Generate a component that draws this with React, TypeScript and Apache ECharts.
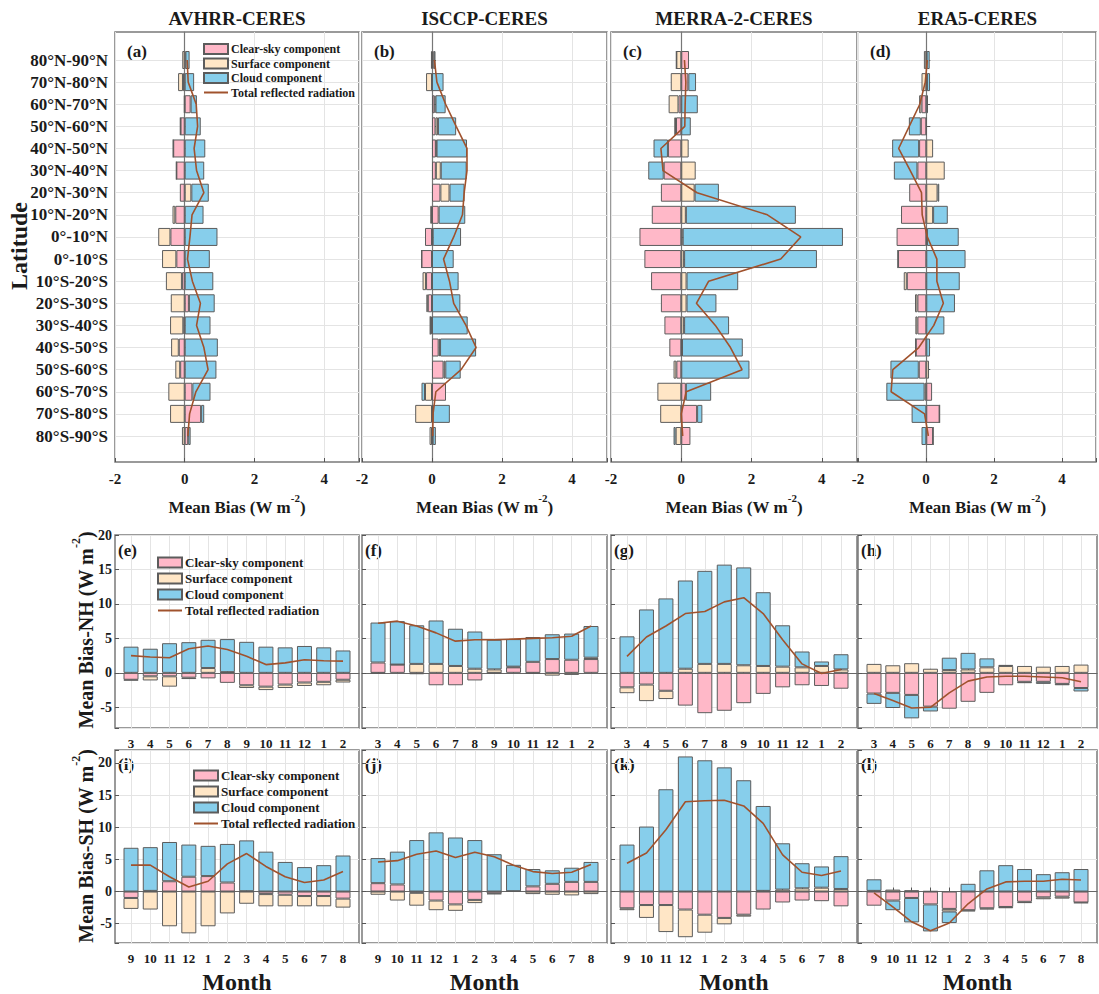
import { useEffect, useRef } from 'react';
import * as echarts from 'echarts';

const FONT = "'Liberation Serif', 'Times New Roman', serif";

const latitudes = ['80°N-90°N', '70°N-80°N', '60°N-70°N', '50°N-60°N', '40°N-50°N', '30°N-40°N', '20°N-30°N', '10°N-20°N', '0°-10°N',
  '0°-10°S', '10°S-20°S', '20°S-30°S', '30°S-40°S', '40°S-50°S', '50°S-60°S', '60°S-70°S', '70°S-80°S', '80°S-90°S'];
const monthsNH = ['3', '4', '5', '6', '7', '8', '9', '10', '11', '12', '1', '2'];
const monthsSH = ['9', '10', '11', '12', '1', '2', '3', '4', '5', '6', '7', '8'];
const columnTitles = ['AVHRR-CERES', 'ISCCP-CERES', 'MERRA-2-CERES', 'ERA5-CERES'];
const latTicks = [-2, 0, 2, 4];

// (a) AVHRR-CERES latitude
const aClear = [0.02, -0.05, 0.17, -0.12, -0.33, -0.24, -0.14, -0.27, -0.41, -0.24, -0.08, 0.12, -0.04, -0.17, -0.13, 0.22, 0.47, 0.10];
const aSurface = [-0.07, -0.14, -0.02, -0.01, 0, 0, 0.19, -0.08, -0.35, -0.41, -0.46, -0.40, -0.38, -0.22, -0.14, -0.47, -0.42, -0.08];
const aCloud = [0.12, 0.27, 0.18, 0.46, 0.59, 0.56, 0.50, 0.54, 0.94, 0.72, 0.82, 0.74, 0.74, 0.95, 0.91, 0.52, 0.09, 0.07];
const aTotal = [0.07, 0.10, 0.33, 0.37, 0.27, 0.34, 0.55, 0.21, 0.15, 0.08, 0.22, 0.45, 0.34, 0.55, 0.67, 0.32, 0.14, 0.09];
// (b) ISCCP-CERES latitude
const bClear = [0.05, 0.0, 0.07, 0.10, 0.11, 0.11, 0.24, 0.19, -0.20, -0.30, -0.17, -0.12, -0.05, 0.19, 0.33, 0.40, 0.02, 0.02];
const bSurface = [-0.03, -0.17, 0.03, 0.07, 0.02, 0.14, 0.26, -0.05, 0.02, 0.0, -0.10, -0.04, 0.0, 0.04, 0.05, -0.20, -0.48, -0.07];
const bCloud = [0.05, 0.33, 0.29, 0.52, 0.87, 0.74, 0.43, 0.76, 0.81, 0.62, 0.76, 0.81, 1.02, 1.03, 0.44, -0.10, 0.49, 0.09];
const bTotal = [0.07, 0.14, 0.39, 0.69, 1.00, 1.00, 0.92, 0.87, 0.62, 0.33, 0.50, 0.62, 0.97, 1.26, 0.83, 0.11, 0.03, 0.02];
// (c) MERRA-2-CERES latitude
const cClear = [0.22, 0.20, -0.08, -0.15, -0.38, -0.50, -0.58, -0.84, -1.19, -1.05, -0.86, -0.58, -0.48, -0.34, -0.14, 0.13, 0.45, 0.26];
const cSurface = [-0.14, -0.30, -0.28, -0.05, 0.21, 0.41, 0.38, 0.13, 0.04, 0.08, 0.15, 0.15, 0.08, 0.02, -0.08, -0.68, -0.60, -0.16];
const cCloud = [0.0, 0.22, 0.47, 0.27, -0.41, -0.44, 0.69, 3.13, 4.56, 3.78, 1.47, 0.85, 1.28, 1.73, 1.94, 0.72, 0.15, -0.06];
const cTotal = [0.09, 0.13, 0.11, 0.10, -0.58, -0.52, 0.45, 2.45, 3.40, 2.83, 0.78, 0.43, 0.97, 1.40, 1.73, 0.14, 0.00, 0.04];
// (d) ERA5-CERES latitude
const dClear = [0.01, 0.02, -0.14, -0.16, -0.21, -0.26, -0.50, -0.74, -0.87, -0.83, -0.57, -0.26, -0.26, -0.31, -0.22, 0.17, 0.39, 0.20];
const dSurface = [-0.07, -0.14, -0.07, 0.01, 0.20, 0.54, 0.33, 0.20, 0.02, 0.0, -0.09, -0.07, -0.06, 0.0, 0.08, -0.05, 0.0, 0.0];
const dCloud = [0.09, 0.09, 0.05, -0.35, -0.79, -0.69, 0.05, 0.43, 0.93, 1.15, 0.98, 0.84, 0.53, 0.11, -0.83, -1.12, -0.43, -0.14];
const dTotal = [0.03, -0.03, -0.19, -0.50, -0.81, -0.47, -0.14, -0.12, 0.03, 0.31, 0.31, 0.50, 0.22, -0.22, -0.98, -1.03, -0.05, 0.06];

// (e)-(h) Northern Hemisphere monthly
const eClear = [-1.0, -0.5, -0.5, -0.7, -0.8, -1.45, -1.8, -2.0, -1.7, -1.4, -1.3, -1.0];
const eSurface = [-0.1, -0.6, -1.5, -0.2, 0.7, 0.1, -0.4, -0.5, -0.5, -0.5, -0.5, -0.4];
const eCloud = [3.8, 3.5, 4.3, 4.45, 4.1, 4.8, 4.5, 3.8, 3.7, 3.9, 3.7, 3.25];
const eTotal = [2.5, 2.3, 2.2, 3.5, 3.9, 3.4, 2.4, 1.2, 1.45, 1.9, 1.75, 1.7];
const fClear = [1.5, 1.2, -0.2, -1.8, -1.8, -1.1, -0.05, 0.8, 1.6, 2.0, 1.9, 2.0];
const fSurface = [-0.1, 0.0, 1.3, 1.3, 1.0, 0.6, 0.5, 0.1, -0.1, -0.4, -0.3, 0.2];
const fCloud = [5.8, 6.3, 5.6, 6.3, 5.4, 5.4, 4.3, 4.0, 3.6, 3.6, 3.8, 4.6];
const fTotal = [7.2, 7.5, 6.8, 5.8, 4.6, 4.8, 4.8, 4.9, 5.0, 5.1, 5.3, 6.8];
const gClear = [-2.1, -1.7, -2.6, -4.75, -5.85, -5.5, -4.4, -3.05, -2.1, -1.8, -1.9, -2.3];
const gSurface = [-0.85, -2.4, -1.2, 0.6, 1.3, 1.3, 1.1, 1.0, 0.9, 0.8, 1.0, 0.5];
const gCloud = [5.3, 9.2, 10.8, 12.8, 13.5, 14.4, 14.2, 10.7, 6.0, 2.3, 0.65, 2.2];
const gTotal = [2.4, 5.2, 6.8, 8.6, 8.9, 10.3, 10.9, 8.6, 4.8, 1.3, -0.1, 0.5];
const hClear = [-3.0, -2.9, -3.2, -4.9, -5.2, -4.2, -2.9, -1.8, -1.3, -1.3, -1.6, -2.2];
const hSurface = [1.3, 1.1, 1.4, 0.6, 0.4, 0.5, 0.8, 1.0, 1.0, 0.9, 1.0, 1.2];
const hCloud = [-1.5, -2.2, -3.4, -0.7, 1.8, 2.4, 1.3, 0.15, -0.2, -0.3, -0.2, -0.5];
const hTotal = [-3.0, -4.0, -5.1, -5.0, -2.9, -1.2, -0.6, -0.5, -0.5, -0.6, -0.7, -1.3];

// (i)-(l) Southern Hemisphere monthly
const iClear = [-1.0, 0.1, 1.6, 2.3, 2.4, 1.4, 0.05, -0.4, -0.5, -0.7, -0.7, -1.1];
const iSurface = [-1.7, -2.8, -5.4, -6.5, -5.4, -3.4, -1.9, -1.9, -1.8, -1.6, -1.6, -1.4];
const iCloud = [6.8, 6.8, 6.1, 5.0, 4.7, 6.0, 7.9, 6.2, 4.6, 3.8, 4.1, 5.6];
const iTotal = [4.1, 4.1, 2.3, 0.7, 1.6, 4.3, 5.9, 3.9, 2.3, 1.4, 1.8, 3.1];
const jClear = [1.3, 1.1, -0.2, -1.4, -2.0, -1.3, -0.3, 0.05, 0.8, 1.2, 1.5, 1.5];
const jSurface = [-0.5, -1.4, -2.0, -1.5, -1.0, -0.5, -0.1, 0.0, -0.4, -0.5, -0.6, -0.4];
const jCloud = [3.9, 5.1, 8.0, 9.2, 8.4, 8.0, 5.8, 4.1, 2.7, 2.1, 2.2, 3.1];
const jTotal = [4.6, 4.8, 5.8, 6.3, 5.3, 6.1, 5.4, 4.1, 3.1, 2.8, 3.0, 4.2];
const kClear = [-2.6, -2.1, -2.1, -2.8, -3.6, -4.1, -3.6, -2.8, -1.7, -1.4, -1.5, -2.3];
const kSurface = [-0.3, -2.0, -4.2, -4.3, -2.8, -1.0, -0.3, 0.1, 0.3, 0.5, 0.6, 0.4];
const kCloud = [7.3, 10.1, 15.9, 21.0, 20.4, 19.3, 17.3, 13.2, 7.2, 3.9, 3.3, 5.1];
const kTotal = [4.4, 6.0, 9.6, 13.95, 14.1, 14.2, 13.3, 10.6, 5.7, 3.0, 2.5, 3.2];
const lClear = [-2.2, -1.4, -1.0, -2.0, -2.7, -2.9, -2.6, -2.4, -1.6, -0.9, -0.8, -1.7];
const lSurface = [0.1, 0.3, 0.2, 0.05, -0.4, -0.2, -0.2, -0.2, -0.2, -0.3, -0.3, -0.1];
const lCloud = [1.8, -1.5, -3.8, -4.2, -1.8, 1.2, 3.3, 4.1, 3.5, 2.7, 3.0, 3.5];
const lTotal = [-0.2, -2.4, -4.7, -6.1, -4.9, -1.9, 0.4, 1.5, 1.6, 1.6, 1.9, 1.8];

const latPanels = [
  { label: '(a)', clear: aClear, surface: aSurface, cloud: aCloud, total: aTotal },
  { label: '(b)', clear: bClear, surface: bSurface, cloud: bCloud, total: bTotal },
  { label: '(c)', clear: cClear, surface: cSurface, cloud: cCloud, total: cTotal },
  { label: '(d)', clear: dClear, surface: dSurface, cloud: dCloud, total: dTotal },
];
const nhPanels = [
  { label: '(e)', clear: eClear, surface: eSurface, cloud: eCloud, total: eTotal },
  { label: '(f)', clear: fClear, surface: fSurface, cloud: fCloud, total: fTotal },
  { label: '(g)', clear: gClear, surface: gSurface, cloud: gCloud, total: gTotal },
  { label: '(h)', clear: hClear, surface: hSurface, cloud: hCloud, total: hTotal },
];
const shPanels = [
  { label: '(i)', clear: iClear, surface: iSurface, cloud: iCloud, total: iTotal },
  { label: '(j)', clear: jClear, surface: jSurface, cloud: jCloud, total: jTotal },
  { label: '(k)', clear: kClear, surface: kSurface, cloud: kCloud, total: kTotal },
  { label: '(l)', clear: lClear, surface: lSurface, cloud: lCloud, total: lTotal },
];

const CLEAR = '#FFB8C8';
const SURFACE = '#FFE6C6';
const CLOUD = '#87CEEB';
const LINE = '#A0522D';
const GRIDC = '#e4e4e4';
const FRAMEC = '#7a7a7a';
const TXT = '#1a1a1a';

const COL_LEFT = [115, 362, 611, 858];
const COL_WIDTH = [244, 245, 246, 239];

function txt(x: number, y: number, text: string, size: number, extra: any = {}) {
  return {
    type: 'text', x, y, silent: true, ...extra,
    style: {
      text, fill: TXT, fontFamily: FONT, fontWeight: 'bold', fontSize: size,
      align: 'center', verticalAlign: 'middle', textAlign: 'center', textVerticalAlign: 'middle',
      ...(extra.style || {}),
    },
  };
}

function superText(x: number, y: number, main: string, size: number, rotation = 0) {
  return {
    type: 'text', x, y, rotation, silent: true,
    style: {
      text: `{a|${main} (W m}{s|-2}{a|)}`,
      fill: TXT,
      align: 'center', verticalAlign: 'middle', textAlign: 'center', textVerticalAlign: 'middle',
      rich: {
        a: { fontFamily: FONT, fontWeight: 'bold', fontSize: size, lineHeight: size + 6, verticalAlign: 'bottom', fill: TXT },
        s: { fontFamily: FONT, fontWeight: 'bold', fontSize: Math.round(size * 0.62), lineHeight: Math.round(size * 0.62), verticalAlign: 'top', fill: TXT },
      },
    },
  };
}

function buildOption() {
  const grid: any[] = [];
  const xAxis: any[] = [];
  const yAxis: any[] = [];
  const series: any[] = [];
  const graphic: any[] = [];
  const lab = { fontFamily: FONT, fontWeight: 'bold', color: TXT };
  const tick = { show: true, inside: true, length: 4, lineStyle: { color: '#555' } };

  const addSeries = (id: string, xi: number, yi: number, p: any, bw: number) => {
    const base = { type: 'bar', xAxisIndex: xi, yAxisIndex: yi, stack: id, barWidth: bw, clip: false };
    const border = { borderColor: '#5c5c5c', borderWidth: 1 };
    series.push({ ...base, name: 'Clear-sky component', data: p.clear, itemStyle: { color: CLEAR, ...border } });
    series.push({ ...base, name: 'Surface component', data: p.surface, itemStyle: { color: SURFACE, ...border } });
    series.push({ ...base, name: 'Cloud component', data: p.cloud, itemStyle: { color: CLOUD, ...border } });
    series.push({
      type: 'line', name: 'Total reflected radiation', xAxisIndex: xi, yAxisIndex: yi, data: p.total,
      symbol: 'none', clip: false, z: 5, lineStyle: { color: LINE, width: 1.6 }, itemStyle: { color: LINE },
    });
  };

  // Latitude panels
  latPanels.forEach((p, c) => {
    const left = COL_LEFT[c];
    const width = COL_WIDTH[c];
    const gf = grid.length;
    grid.push({ left, top: 32, width, height: 430, show: true, borderColor: FRAMEC, borderWidth: 1.5, backgroundColor: 'transparent' });
    xAxis.push({
      gridIndex: gf, type: 'value', min: latTicks[0], max: 5, interval: 2,
      axisLine: { show: false }, axisTick: tick,
      axisLabel: { ...lab, fontSize: 15, margin: 9, formatter: (v: number) => (latTicks.includes(v) ? String(v) : '') },
      splitLine: { show: true, lineStyle: { color: GRIDC, width: 1 } },
    });
    yAxis.push({
      gridIndex: gf, type: 'value', min: 0, max: 1,
      axisLine: { show: true, onZero: true, lineStyle: { color: '#777', width: 1.2 } },
      axisTick: { show: false }, axisLabel: { show: false }, splitLine: { show: false },
    });
    const gd = grid.length;
    grid.push({ left, top: 60, width, height: 376 });
    const xi = xAxis.length;
    xAxis.push({ gridIndex: gd, type: 'value', min: -2, max: 5, show: false });
    const yi = yAxis.length;
    yAxis.push({
      gridIndex: gd, type: 'category', data: latitudes, inverse: true, boundaryGap: false,
      axisLine: { show: false }, axisTick: tick,
      axisLabel: { show: c === 0, ...lab, fontSize: 17, margin: 7, interval: 0 },
      splitLine: { show: true, lineStyle: { color: GRIDC } },
    });
    addSeries('lat' + c, xi, yi, p, 18);
    graphic.push(txt(left + 12, 51, p.label, 17, { style: { align: 'left', textAlign: 'left' } }));
    graphic.push(txt(left + width / 2, 18, columnTitles[c], 19));
    graphic.push(superText(left + width / 2, 504, 'Mean Bias', 17));
  });

  const monthRows = [
    { panels: nhPanels, months: monthsNH, top: 535, height: 193, min: -8, max: 20, labelY: 550 },
    { panels: shPanels, months: monthsSH, top: 750, height: 193, min: -8, max: 22, labelY: 764 },
  ];
  monthRows.forEach((row, r) => {
    row.panels.forEach((p, c) => {
      const left = COL_LEFT[c];
      const width = COL_WIDTH[c];
      const gf = grid.length;
      grid.push({ left, top: row.top, width, height: row.height, show: true, borderColor: FRAMEC, borderWidth: 1.5, backgroundColor: 'transparent' });
      xAxis.push({
        gridIndex: gf, type: 'value', min: 0, max: 1,
        axisLine: { show: true, onZero: true, lineStyle: { color: '#666', width: 1.2 } },
        axisTick: { show: false }, axisLabel: { show: false }, splitLine: { show: false },
      });
      yAxis.push({
        gridIndex: gf, type: 'value', min: row.min, max: row.max,
        axisLine: { show: false }, axisTick: tick,
        axisLabel: { show: c === 0, ...lab, fontSize: 14, margin: 3, formatter: (v: number) => (v % 5 === 0 ? String(v) : '') },
        splitLine: { show: true, lineStyle: { color: GRIDC } },
      });
      const gd = grid.length;
      grid.push({ left: left + 16, top: row.top, width: width - 32, height: row.height });
      const xi = xAxis.length;
      xAxis.push({
        gridIndex: gd, type: 'category', data: row.months, boundaryGap: false,
        axisLine: { show: false }, axisTick: tick,
        axisLabel: { ...lab, fontSize: 13, margin: 9, interval: 0 },
        splitLine: { show: true, lineStyle: { color: GRIDC } },
      });
      const yi = yAxis.length;
      yAxis.push({ gridIndex: gd, type: 'value', min: row.min, max: row.max, show: false });
      addSeries('m' + r + c, xi, yi, p, 15);
      graphic.push(txt(left + 3, row.labelY, p.label, 17, { style: { align: 'left', textAlign: 'left' } }));
      if (r === 1) graphic.push(txt(left + width / 2, 982, 'Month', 24));
    });
  });

  graphic.push(txt(19, 246, 'Latitude', 24, { rotation: Math.PI / 2 }));
  graphic.push(superText(83, 630, 'Mean Bias-NH', 20, Math.PI / 2));
  graphic.push(superText(83, 846, 'Mean Bias-SH', 20, Math.PI / 2));

  const legendData = [
    { name: 'Clear-sky component', icon: 'rect' },
    { name: 'Surface component', icon: 'rect' },
    { name: 'Cloud component', icon: 'rect' },
    { name: 'Total reflected radiation', itemStyle: { color: 'rgba(0,0,0,0)', borderWidth: 0, opacity: 0 } },
  ];
  const mkLegend = (left: number, top: number, fs: number, gap: number) => ({
    left, top, orient: 'vertical', padding: 0, itemWidth: 24, itemHeight: 10, itemGap: gap,
    selectedMode: false, data: legendData,
    textStyle: { fontFamily: FONT, fontWeight: 'bold', fontSize: fs, color: TXT, lineHeight: 12, padding: [0, 0, 0, -2] },
  });

  return {
    animation: false,
    backgroundColor: '#ffffff',
    grid, xAxis, yAxis, series, graphic,
    legend: [mkLegend(203, 43, 12, 2.5), mkLegend(157, 556, 13, 3), mkLegend(193, 769, 13, 3)],
  };
}

export default function App() {
  const ref = useRef<HTMLDivElement>(null);
  useEffect(() => {
    const chart = echarts.init(ref.current!, null, { renderer: 'svg' });
    chart.setOption(buildOption() as any);
    return () => chart.dispose();
  }, []);
  return <div ref={ref} style={{ position: 'absolute', left: 0, top: 0, width: 1099, height: 994 }} />;
}
